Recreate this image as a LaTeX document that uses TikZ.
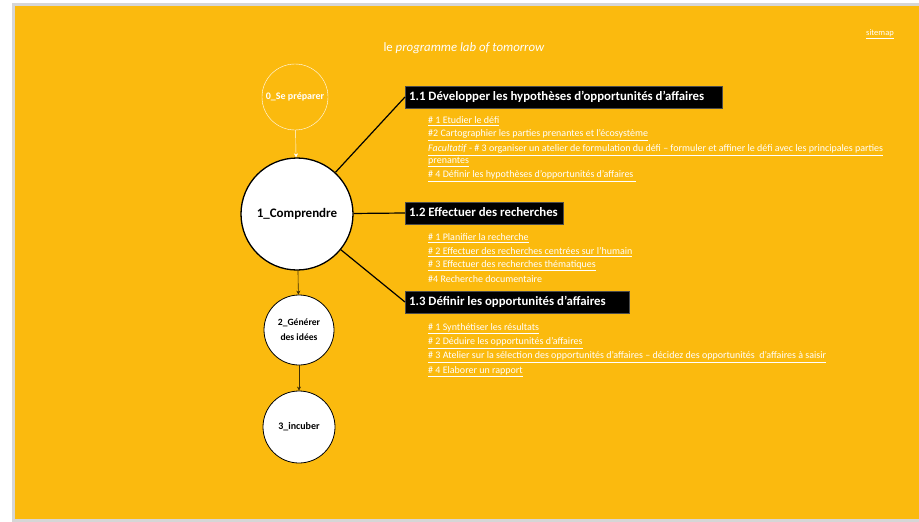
\documentclass[tikz,border=0pt]{standalone}
\usepackage{fontspec}
\setmainfont{Carlito}
\usetikzlibrary{positioning,arrows.meta}
\definecolor{labyellow}{RGB}{251,186,14}
\definecolor{pagegrey}{RGB}{214,214,214}
\newcommand{\headtext}[2]{\makebox[#1][l]{#2}}
\tikzset{
  phase/.style={circle, draw=black, fill=white, thick, align=center, inner sep=0pt},
  header/.style={fill=black, draw=black!70, text=white, font=\bfseries\fontsize{12.8}{14}\selectfont,
                 anchor=west, inner xsep=4pt, inner ysep=0pt, text height=9.5pt, text depth=3pt, minimum height=22pt},
  step item/.style={anchor=west, text=white, inner sep=0pt, align=left, yshift=-2pt,
                 font=\fontsize{10}{12}\selectfont},
  flow/.style={-{Stealth[length=4pt,width=4pt]}, semithick},
  branch/.style={very thick, black}
}
\begin{document}
\begin{tikzpicture}[x=1pt, y=-1pt]
  % page and background
  \fill[white] (0,0) rectangle (919,522);
  \fill[pagegrey] (12,3) rectangle (919,522);
  \fill[labyellow] (15,6) rectangle (919,519);
  \useasboundingbox (0,0) rectangle (919,522);

  \node[text=white, font=\fontsize{12.8}{14}\selectfont] (title) at (464,48) {le \textit{programme lab of tomorrow}};
  \node[text=white, font=\fontsize{8.5}{9}\selectfont] (sitemap) at (880,34) {\underline{sitemap}};

  % the four phases
  \node[phase, draw=white, fill=none, thin, minimum size=66pt, text=white,
        font=\bfseries\fontsize{10}{11}\selectfont] (prep) at (295,97) {0\_Se préparer};
  \node[phase, line width=1.3pt, minimum size=112pt,
        font=\bfseries\fontsize{13}{15}\selectfont] (comp) at (297,214) {1\_Comprendre};
  \node[phase, minimum size=70pt, font=\bfseries\fontsize{9.6}{15}\selectfont] (gen) at (299,330) {2\_Générer\\des idées};
  \node[phase, minimum size=72pt, font=\bfseries\fontsize{10}{11}\selectfont] (inc) at (299,427) {3\_incuber};

  \draw[flow, white, thin] (prep) -- (comp);
  \draw[flow, black!75!labyellow] (comp) -- (gen);
  \draw[flow, black!75!labyellow] (gen) -- (inc);

  % 1.1
  \node[header] (h11) at (405,97) {\headtext{309pt}{1.1 Développer les hypothèses d’opportunités d'affaires}};
  \node[step item] (s111) at (428,119) {\underline{\# 1 Etudier le défi}};
  \node[step item] (s112) at (428,133) {\underline{\#2 Cartographier les parties prenantes et l'écosystème}};
  \node[step item] (s113) at (428,154) {\underline{\textit{Facultatif} - \# 3 organiser un atelier de formulation du défi – formuler et affiner le défi avec les principales parties}\\\underline{prenantes}};
  \node[step item] (s114) at (428,174) {\underline{\# 4 Définir les hypothèses d'opportunités d'affaires }};

  % 1.2
  \node[header] (h12) at (405,213) {\headtext{150pt}{1.2 Effectuer des recherches}};
  \node[step item] (s121) at (428,236) {\underline{\# 1 Planifier la recherche}};
  \node[step item] (s122) at (428,250) {\underline{\# 2 Effectuer des recherches centrées sur l'humain}};
  \node[step item] (s123) at (428,264) {\underline{\# 3 Effectuer des recherches thématiques}};
  \node[step item] (s124) at (428,277) {\#4 Recherche documentaire};

  % 1.3
  \node[header] (h13) at (405,302) {\headtext{216pt}{1.3 Définir les opportunités d'affaires}};
  \node[step item] (s131) at (428,327) {\underline{\# 1 Synthétiser les résultats}};
  \node[step item] (s132) at (428,341) {\underline{\# 2 Déduire les opportunités d'affaires}};
  \node[step item] (s133) at (428,355) {\underline{\# 3 Atelier sur la sélection des opportunités d'affaires – décidez des opportunités\ \ d'affaires à saisir}};
  \node[step item] (s134) at (428,370) {\underline{\# 4 Elaborer un rapport}};

  \draw[branch] (comp) -- (h11.west);
  \draw[branch] (comp) -- (h12.west);
  \draw[branch] (comp) -- (h13.west);
\end{tikzpicture}
\end{document}
